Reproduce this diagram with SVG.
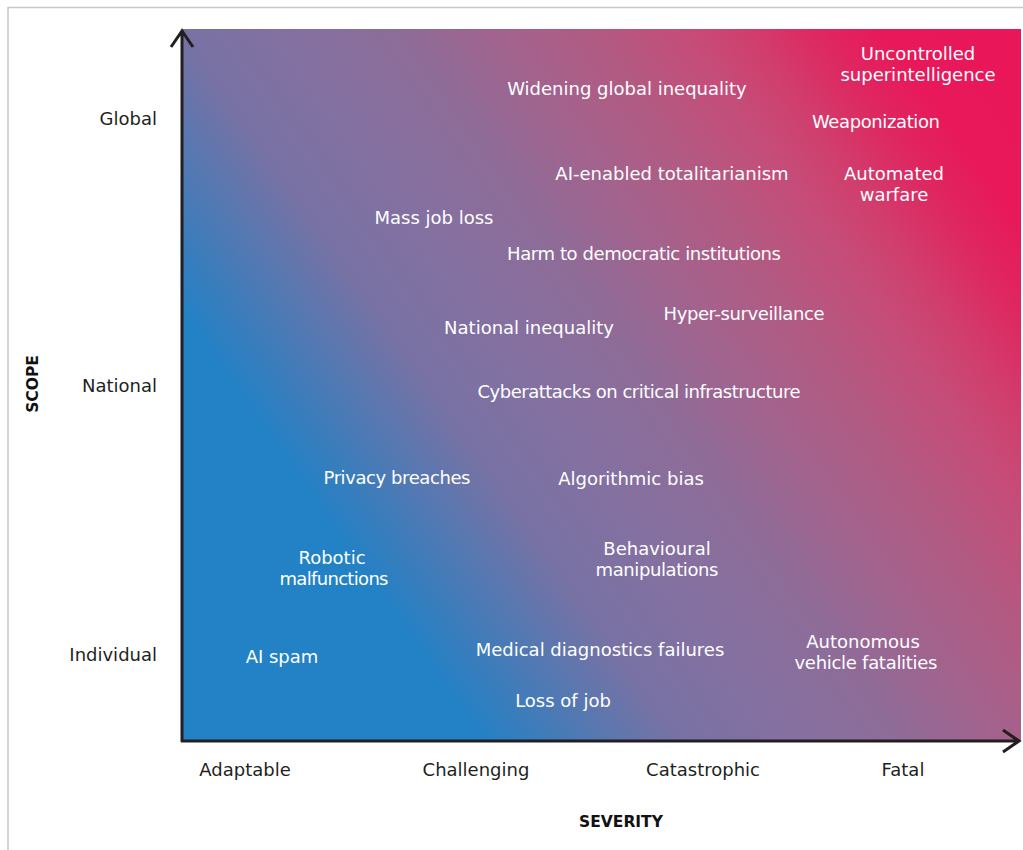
<svg xmlns="http://www.w3.org/2000/svg" width="1023" height="850" viewBox="0 0 1023 850">
<defs>
<linearGradient id="bg" gradientUnits="userSpaceOnUse" x1="181" y1="310.5" x2="844.4" y2="-154.4">
<stop offset="0" stop-color="#2381C5"/>
<stop offset="0.1975" stop-color="#7872A4"/>
<stop offset="0.321" stop-color="#8570A0"/>
<stop offset="0.42" stop-color="#8E6C98"/>
<stop offset="0.531" stop-color="#A4628C"/>
<stop offset="0.617" stop-color="#B25A82"/>
<stop offset="0.70" stop-color="#C44E7A"/>
<stop offset="0.765" stop-color="#CF406E"/>
<stop offset="0.84" stop-color="#DE2862"/>
<stop offset="0.91" stop-color="#E8185A"/>
<stop offset="1" stop-color="#E9175A"/>
</linearGradient>
<style>
.r{font-family:"DejaVu Sans","Liberation Sans",sans-serif;font-size:18px;fill:#ffffff;text-anchor:middle}
.ax{font-family:"DejaVu Sans","Liberation Sans",sans-serif;font-size:18px;fill:#231F20}
.t{font-family:"DejaVu Sans","Liberation Sans",sans-serif;font-size:15.5px;font-weight:bold;fill:#111111;text-anchor:middle}
.axis{stroke:#231F20;stroke-width:3;fill:none}
</style>
</defs>
<rect x="8" y="7.5" width="1030" height="860" fill="#ffffff" stroke="#c8c8c8" stroke-width="1.5"/>
<rect id="plot" x="182" y="29" width="839" height="712" fill="url(#bg)"/>
<g id="connectors">
<path class="axis" d="M182,742 V31 M171,47 L182,31 L193,47"/>
<path class="axis" d="M181,741 H1019 M1003,730 L1019,741 L1003,752"/>
</g>
<g id="axis-labels">
<text class="ax" x="157" y="125" text-anchor="end">Global</text>
<text class="ax" x="157" y="392" text-anchor="end">National</text>
<text class="ax" x="157" y="661" text-anchor="end">Individual</text>
<text class="ax" x="245" y="776" text-anchor="middle">Adaptable</text>
<text class="ax" x="476" y="776" text-anchor="middle">Challenging</text>
<text class="ax" x="703" y="776" text-anchor="middle">Catastrophic</text>
<text class="ax" x="903" y="776" text-anchor="middle">Fatal</text>
<text class="t" x="621" y="827">SEVERITY</text>
<text class="t" transform="translate(38,384) rotate(-90)">SCOPE</text>
</g>
<g id="n-superintelligence"><text class="r" x="918" y="60">Uncontrolled</text><text class="r" x="918" y="81">superintelligence</text></g>
<g id="n-widening"><text class="r" x="627" y="95">Widening global inequality</text></g>
<g id="n-weaponization"><text class="r" x="876" y="128" textLength="128">Weaponization</text></g>
<g id="n-totalitarianism"><text class="r" x="672" y="180">AI-enabled totalitarianism</text></g>
<g id="n-warfare"><text class="r" x="894" y="180">Automated</text><text class="r" x="894" y="201">warfare</text></g>
<g id="n-massjob"><text class="r" x="434" y="224">Mass job loss</text></g>
<g id="n-democratic"><text class="r" x="644" y="260" textLength="274">Harm to democratic institutions</text></g>
<g id="n-surveillance"><text class="r" x="744" y="320" textLength="161">Hyper-surveillance</text></g>
<g id="n-national"><text class="r" x="529" y="334">National inequality</text></g>
<g id="n-cyber"><text class="r" x="639" y="398" textLength="323">Cyberattacks on critical infrastructure</text></g>
<g id="n-privacy"><text class="r" x="397" y="484" textLength="147">Privacy breaches</text></g>
<g id="n-bias"><text class="r" x="631" y="485">Algorithmic bias</text></g>
<g id="n-robotic"><text class="r" x="332" y="564">Robotic</text><text class="r" x="334" y="585" textLength="109">malfunctions</text></g>
<g id="n-behavioural"><text class="r" x="657" y="555">Behavioural</text><text class="r" x="657" y="576" textLength="123">manipulations</text></g>
<g id="n-spam"><text class="r" x="282" y="663">AI spam</text></g>
<g id="n-medical"><text class="r" x="600" y="656">Medical diagnostics failures</text></g>
<g id="n-autonomous"><text class="r" x="863" y="648">Autonomous</text><text class="r" x="866" y="669" textLength="143">vehicle fatalities</text></g>
<g id="n-lossjob"><text class="r" x="563" y="707">Loss of job</text></g>
</svg>
